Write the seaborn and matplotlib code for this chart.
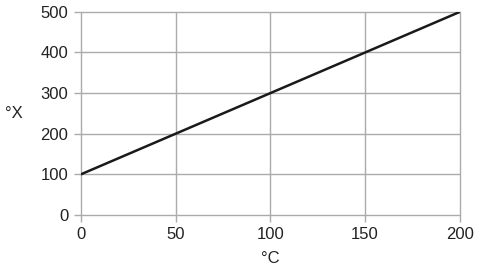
import matplotlib
matplotlib.use("Agg")
import matplotlib.pyplot as plt
import seaborn as sns
import pandas as pd

celsius = [0, 200]
x_values = [100, 500]
x_ticks = [0, 50, 100, 150, 200]
y_ticks = [0, 100, 200, 300, 400, 500]

sns.set_theme(style="white")
plt.rcParams['font.family'] = ['Liberation Sans', 'DejaVu Sans']

fig = plt.figure(figsize=(4.79, 2.70), dpi=100)
ax = fig.add_axes([0.169, 0.204, 0.791, 0.752])
df = pd.DataFrame({"C": celsius, "X": x_values})
sns.lineplot(data=df, x="C", y="X", ax=ax, color="#1a1a1a", linewidth=1.8, zorder=3)
ax.set_xlim(0, 200)
ax.set_ylim(0, 500)
ax.set_xticks(x_ticks)
ax.set_yticks(y_ticks)
ax.grid(True, color="#ababab", linewidth=1.0)
for g in ax.get_xgridlines() + ax.get_ygridlines():
    g.set_clip_on(False)
for s in ax.spines.values():
    s.set_visible(False)
ax.tick_params(axis="both", bottom=True, left=True, direction="out", length=5,
               color="#ababab", width=1.0, labelsize=12, labelcolor="#222222", pad=4)
ax.set_xlabel("°C", fontsize=12, color="#222222", labelpad=6)
ax.set_ylabel("°X", fontsize=12, color="#222222", rotation=0, labelpad=19, va="center")
fig.savefig("out.png", dpi=100)
